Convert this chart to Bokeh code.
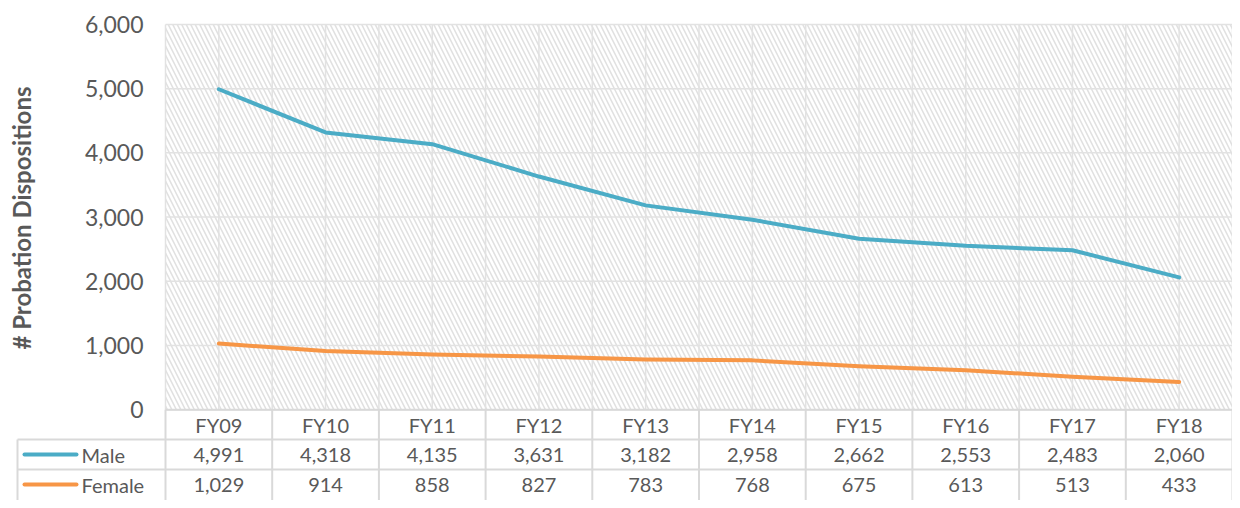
import numpy as np
from bokeh.plotting import figure
from bokeh.models import Range1d, BoxAnnotation
from bokeh.core.properties import value
from bokeh.embed import file_html
from bokeh.resources import INLINE

# ---------------- data ----------------
categories = ["FY09", "FY10", "FY11", "FY12", "FY13", "FY14", "FY15", "FY16", "FY17", "FY18"]
male = [4991, 4318, 4135, 3631, 3182, 2958, 2662, 2553, 2483, 2060]
female = [1029, 914, 858, 827, 783, 768, 675, 613, 513, 433]
series_names = ["Male", "Female"]
y_ticks = [0, 1000, 2000, 3000, 4000, 5000, 6000]
y_title = "# Probation Dispositions"

# ---------------- layout ----------------
W, H = 1232, 500
PX_CAT = 106.7              # pixels per category
PLOT_LEFT = 165             # image x of plot-area left edge
PLOT_BOTTOM = 410           # image y of value 0
PLOT_TOP = 24               # image y of top tick
PX_UNIT = (PLOT_BOTTOM - PLOT_TOP) / 6000.0
ROW_PX = 30

def dx(px):
    return (px - PLOT_LEFT) / PX_CAT

def dy(py):
    return (PLOT_BOTTOM - py) / PX_UNIT

n = len(categories)
x0, x1 = dx(0), dx(W)
y1, y0 = dy(0), dy(H + 1)

FONT = value("Lato")
TXT = "#595959"
MALE_C = "#4BACC6"
FEMALE_C = "#F79646"

p = figure(width=W, height=H, x_range=Range1d(x0, x1), y_range=Range1d(y0, y1),
           output_backend="svg", toolbar_location=None, min_border=0,
           outline_line_color=None, background_fill_color="white",
           border_fill_color="white")
p.axis.visible = False
p.grid.visible = False

ymax = y_ticks[-1]

# hatched plot area
hatch = BoxAnnotation(left=0, right=n, bottom=0, top=ymax, fill_alpha=0,
                      line_color=None, hatch_pattern="left_diagonal_line",
                      hatch_color="#e1e1e1", hatch_scale=9, hatch_weight=1.6,
                      level="underlay")
p.add_layout(hatch)

# plot gridlines
GRID_C = "#e2e2e2"
p.segment(x0=[0] * len(y_ticks), y0=y_ticks, x1=[n] * len(y_ticks), y1=y_ticks,
          line_color=GRID_C, line_width=1.5)
vx = [i * 0.5 for i in range(2 * n + 1)]
p.segment(x0=vx, y0=[0] * len(vx), x1=vx, y1=[ymax] * len(vx),
          line_color=GRID_C, line_width=1.5)

# data table grid
ROW = ROW_PX / PX_UNIT
TAB_C = "#d9d9d9"
left_col = dx(17)
p.segment(x0=[0, left_col, left_col], y0=[0, -ROW, -2 * ROW],
          x1=[n, n, n], y1=[0, -ROW, -2 * ROW], line_color=TAB_C, line_width=2)
tx = list(range(n + 1))
p.segment(x0=tx, y0=[0] * len(tx), x1=tx, y1=[y0] * len(tx),
          line_color=TAB_C, line_width=2)
p.segment(x0=[left_col], y0=[-ROW], x1=[left_col], y1=[y0],
          line_color=TAB_C, line_width=2)

# series lines
xc = [i + 0.5 for i in range(n)]
p.line(xc, male, line_color=MALE_C, line_width=4, line_join="round", line_cap="round")
p.line(xc, female, line_color=FEMALE_C, line_width=4, line_join="round", line_cap="round")

# y tick labels
p.text(x=[dx(143)] * len(y_ticks), y=y_ticks, text=[f"{t:,}" for t in y_ticks],
       text_align="right", text_baseline="middle", text_font=FONT,
       text_font_size="23px", text_color=TXT)

# y title
p.text(x=[dx(21)], y=[dy(218)], text=[y_title], angle=np.pi / 2,
       text_align="center", text_baseline="middle", text_font=FONT,
       text_font_style="bold", text_font_size="24px", text_color=TXT)

# table header and values
p.text(x=xc, y=[-ROW / 2] * n, text=categories, text_align="center",
       text_baseline="middle", text_font=FONT, text_font_size="20px", text_color=TXT)
for k, (vals, col) in enumerate([(male, MALE_C), (female, FEMALE_C)]):
    yr = -ROW * (k + 1) - ROW / 2
    p.text(x=xc, y=[yr] * n, text=[f"{v:,}" for v in vals], text_align="center",
           text_baseline="middle", text_font=FONT, text_font_size="20px", text_color=TXT)
    p.segment(x0=[dx(24)], y0=[yr], x1=[dx(76)], y1=[yr], line_color=col,
              line_width=4, line_cap="round")
    p.text(x=[dx(81)], y=[yr], text=[series_names[k]], text_align="left",
           text_baseline="middle", text_font=FONT, text_font_size="20px", text_color=TXT)

open("out.html", "w").write(file_html(p, INLINE))
